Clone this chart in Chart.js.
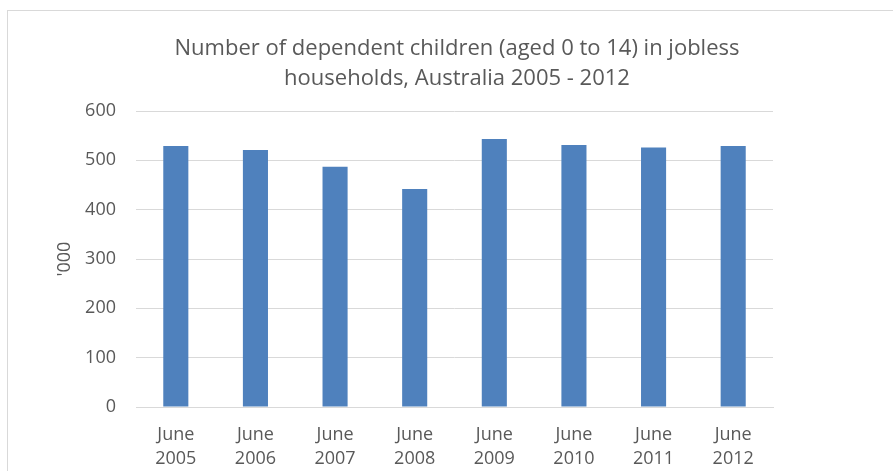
<!DOCTYPE html>
<html>
<head>
<meta charset="utf-8">
<script src="https://cdn.jsdelivr.net/npm/chart.js@4"></script>
<style>
  html, body { margin: 0; padding: 0; background: #fff; overflow: hidden; }
  #frame { position: absolute; left: 7px; top: 10px; width: 2000px; height: 2000px; border: 1px solid #d9d9d9; }
  #wrap { position: absolute; left: 0; top: 0; width: 893px; height: 471px; }
</style>
</head>
<body>
<div id="frame"></div>
<div id="wrap"><canvas id="jobless"></canvas></div>
<script>
// Données
const years = ['2005', '2006', '2007', '2008', '2009', '2010', '2011', '2012'];
const children = [529, 521, 487, 442, 543, 531, 526, 529];
const titleLines = ['Number of dependent children (aged 0 to 14) in jobless', 'households, Australia 2005 - 2012'];
const yTitle = "'000";

const textColor = '#595959';
const gridColor = '#d9d9d9';
const fontFamily = '"Open Sans", sans-serif';

document.addEventListener('DOMContentLoaded', function() {
    const ctx = document.getElementById('jobless').getContext('2d');
    new Chart(ctx, {
        type: 'bar',
        data: {
            labels: years.map(y => ['June', y]),
            datasets: [{
                data: children,
                backgroundColor: '#4f81bd',
                categoryPercentage: 1,
                barPercentage: 0.315
            }]
        },
        options: {
            responsive: true,
            maintainAspectRatio: false,
            animation: false,
            layout: { padding: { left: 40, right: 19, top: 10, bottom: 0 } },
            plugins: {
                legend: { display: false },
                tooltip: { enabled: false },
                title: {
                    display: true,
                    text: titleLines,
                    color: textColor,
                    font: { family: fontFamily, size: 22, weight: 'normal', lineHeight: 30 / 22 },
                    padding: { top: 24, bottom: 17 }
                }
            },
            scales: {
                x: {
                    grid: { display: false, drawTicks: false },
                    border: { color: gridColor },
                    ticks: {
                        color: textColor,
                        padding: 16,
                        maxRotation: 0,
                        font: { family: fontFamily, size: 18, lineHeight: 24 / 18 }
                    },
                    afterFit: function(scale) { scale.height = 64; }
                },
                y: {
                    min: 0,
                    max: 600,
                    grid: { color: gridColor, drawTicks: false },
                    border: { display: false },
                    ticks: {
                        stepSize: 100,
                        color: textColor,
                        padding: 20,
                        font: { family: fontFamily, size: 18 }
                    },
                    title: {
                        display: true,
                        text: yTitle,
                        color: textColor,
                        font: { family: fontFamily, size: 18, lineHeight: 1.2 },
                        padding: { top: 14, bottom: 0 }
                    },
                    afterFit: function(scale) { scale.width = 96; }
                },
                // axe vide à droite pour garder le titre centré comme dans Excel
                yRight: {
                    position: 'right',
                    grid: { display: false, drawTicks: false },
                    border: { display: false },
                    ticks: { display: false },
                    afterFit: function(scale) { scale.width = 101; }
                }
            }
        }
    });
});
</script>
</body>
</html>
